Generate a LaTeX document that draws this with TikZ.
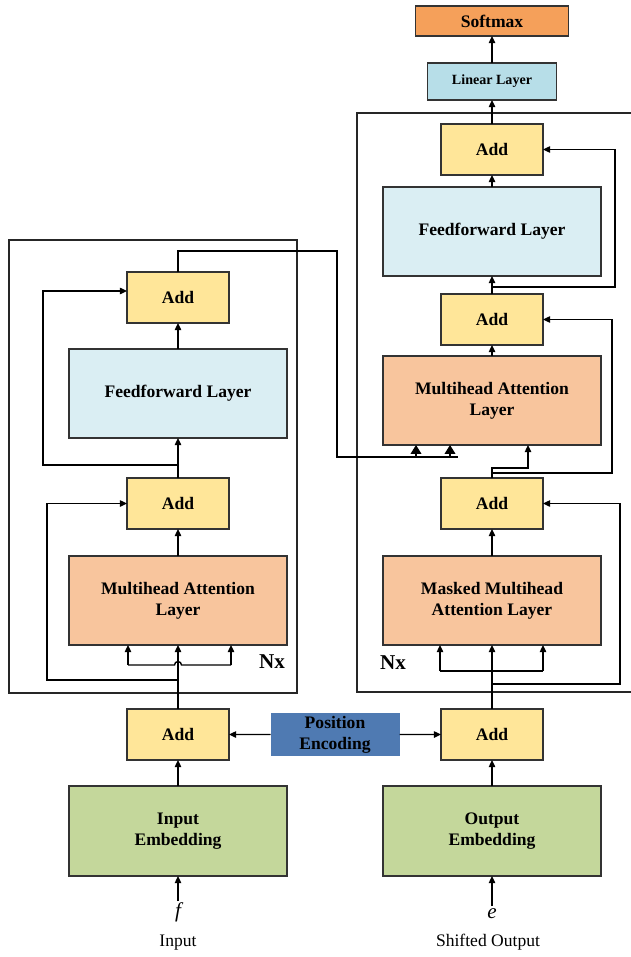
\documentclass[tikz,border=0pt]{standalone}
\usepackage{fontspec}
\setmainfont{Liberation Serif}
\usetikzlibrary{positioning,calc,arrows.meta}
\definecolor{addyellow}{HTML}{FFE699}
\definecolor{ffblue}{HTML}{DAEEF3}
\definecolor{attorange}{HTML}{F8C59D}
\definecolor{embgreen}{HTML}{C4D79B}
\definecolor{posblue}{HTML}{4F7AB2}
\definecolor{linblue}{HTML}{B7DEE8}
\definecolor{softorange}{HTML}{F5A05A}
\tikzset{
    node distance=0.52cm, % gap between two stacked blocks. Change if necessary.
    >={Triangle[length=4pt,width=3.6pt]},
    }

\begin{document}
\begin{tikzpicture}[
addnode/.style={rectangle, draw=black!80, thick, fill=addyellow, minimum width=20.4mm, minimum height=10.2mm, inner sep=0pt, outer sep=0pt, font=\bfseries},
ffnode/.style={rectangle, draw=black!80, thick, fill=ffblue, minimum width=43.6mm, minimum height=17.8mm, inner sep=0pt, outer sep=0pt, align=center, font=\bfseries},
attnode/.style={ffnode, fill=attorange},
embnode/.style={ffnode, fill=embgreen, minimum height=18mm},
posnode/.style={rectangle, fill=posblue, minimum width=25.8mm, minimum height=8.6mm, inner sep=0pt, outer sep=0pt, align=center, font=\bfseries},
linnode/.style={rectangle, draw=black!80, thick, fill=linblue, minimum width=25.8mm, minimum height=7.4mm, inner sep=0pt, outer sep=0pt, font=\bfseries\footnotesize},
softnode/.style={rectangle, draw=black!80, thick, fill=softorange, minimum width=30.6mm, minimum height=6mm, inner sep=0pt, outer sep=0pt, font=\bfseries},
nxbox/.style={draw=black!85, semithick},
]
\useasboundingbox (0,0) rectangle (12.62,-19.14);

% encoder
\node[embnode] (embIn) at (3.56,-16.62) {Input\\Embedding};
\node[addnode] (addInL) [above=of embIn] {Add};
\node[attnode] (attL) [above=1.28cm of addInL] {Multihead Attention\\Layer};
\node[addnode] (add1L) [above=0.54cm of attL] {Add};
\node[ffnode] (ffL) [above=0.8cm of add1L] {Feedforward Layer};
\node[addnode] (add2L) [above=of ffL] {Add};

% decoder
\node[embnode] (embOut) at (9.84,-16.62) {Output\\Embedding};
\node[addnode] (addInR) [above=of embOut] {Add};
\node[attnode] (mattR) [above=1.28cm of addInR] {Masked Multihead\\Attention Layer};
\node[addnode] (add1R) [above=0.54cm of mattR] {Add};
\node[attnode] (attR) [above=0.66cm of add1R] {Multihead Attention\\Layer};
\node[addnode] (add2R) [above=0.22cm of attR] {Add};
\node[ffnode] (ffR) [above=0.36cm of add2R] {Feedforward Layer};
\node[addnode] (add3R) [above=0.24cm of ffR] {Add};
\node[linnode] (linR) [above=0.48cm of add3R] {Linear Layer};
\node[softnode] (softR) [above=0.54cm of linR] {Softmax};

\node[posnode] (posEnc) at ($(addInL)!0.5!(addInR)$) {Position\\Encoding};

% inputs
\node[inner sep=1pt, font=\large\itshape] (fIn) [below=0.5cm of embIn] {f};
\node[inner sep=0pt] (inLbl) [below=0.2cm of fIn] {Input};
\node[inner sep=1pt, font=\large\itshape] (eOut) [below=0.6cm of embOut] {e};
\node[inner sep=0pt, xshift=-0.08cm] (outLbl) [below=0.26cm of eOut] {Shifted Output};

% Nx boxes
\draw[nxbox] (0.18,-4.8) rectangle (5.94,-13.86);
\draw[nxbox] (12.62,-2.26) -- (7.14,-2.26) -- (7.14,-13.84) -- (12.62,-13.84);
\node[font=\bfseries\large] (nxL) at (5.44,-13.24) {Nx};
\node[font=\bfseries\large] (nxR) at (7.86,-13.26) {Nx};

\coordinate (brLa) at ($(attL.south)+(-1,-0.4)$);
\coordinate (brLb) at ($(attL.south)+(1.06,-0.4)$);
\coordinate (hopL) at ($(attL.south)+(0,-0.4)$);
\coordinate (resL1) at ($(addInL.north)+(0,0.58)$);
\coordinate (resL2) at ($(add1L.north)+(0,0.26)$);
\coordinate (brRa) at ($(mattR.south)+(-1.04,-0.52)$);
\coordinate (brRb) at ($(mattR.south)+(1.02,-0.52)$);
\coordinate (resR1) at ($(addInR.north)+(0,0.5)$);
\coordinate (resR2) at ($(add1R.north)+(0,0.1)$);
\coordinate (resR3) at ($(add2R.north)+(0,0.14)$);
\coordinate (crossEnd) at ($(attR.south)+(-0.68,-0.24)$);
\coordinate (kIn) at ($(attR.south)+(-1.52,-0.24)$);
\coordinate (vIn) at ($(attR.south)+(-0.84,-0.24)$);

% encoder connectors
\draw[thick,->] (fIn.north) -- (embIn.south);
\draw[thick,->] (embIn.north) -- (addInL.south);
\draw[thick,->] (addInL.north) -- (attL.south);
\draw[thick] (brLa) -- ($(hopL)+(-0.07,0)$) arc[start angle=180,end angle=0,radius=0.07] -- (brLb);
\draw[thick,->] (brLa) -- (brLa |- attL.south);
\draw[thick,->] (brLb) -- (brLb |- attL.south);
\draw[thick,->] (resL1) -- ++(-2.62,0) |- (add1L.west);
\draw[thick,->] (attL.north) -- (add1L.south);
\draw[thick,->] (add1L.north) -- (ffL.south);
\draw[thick,->] (resL2) -- ++(-2.7,0) |- ([yshift=0.13cm]add2L.west);
\draw[thick,->] (ffL.north) -- (add2L.south);
\draw[thick] (add2L.north) -- ++(0,0.42) -- ++(3.18,0) |- (crossEnd);
\draw[thick,-{Triangle[length=5pt,width=6pt]}] (kIn) -- (kIn |- attR.south);
\draw[thick,-{Triangle[length=5pt,width=6pt]}] (vIn) -- (vIn |- attR.south);

% decoder connectors
\draw[thick,->] (eOut.north) -- (embOut.south);
\draw[thick,->] (embOut.north) -- (addInR.south);
\draw[thick,->] (addInR.north) -- (mattR.south);
\draw[thick] (brRa) -- (brRb);
\draw[thick,->] (brRa) -- (brRa |- mattR.south);
\draw[thick,->] (brRb) -- (brRb |- mattR.south);
\draw[thick,->] (resR1) -- ++(2.56,0) |- (add1R.east);
\draw[thick,->] (mattR.north) -- (add1R.south);
\draw[thick,->] (add1R.north) -- ++(0,0.2) -| ([xshift=0.72cm]attR.south);
\draw[thick,->] (resR2) -- ++(2.4,0) |- (add2R.east);
\draw[thick,->] (attR.north) -- (add2R.south);
\draw[thick,->] (add2R.north) -- (ffR.south);
\draw[thick,->] (resR3) -- ++(2.46,0) |- (add3R.east);
\draw[thick,->] (ffR.north) -- (add3R.south);
\draw[thick,->] (add3R.north) -- (linR.south);
\draw[thick,->] (linR.north) -- (softR.south);

% position encoding
\draw[thick,->] (posEnc.west) -- (addInL.east);
\draw[thick,->] (posEnc.east) -- (addInR.west);
\end{tikzpicture}
\end{document}
